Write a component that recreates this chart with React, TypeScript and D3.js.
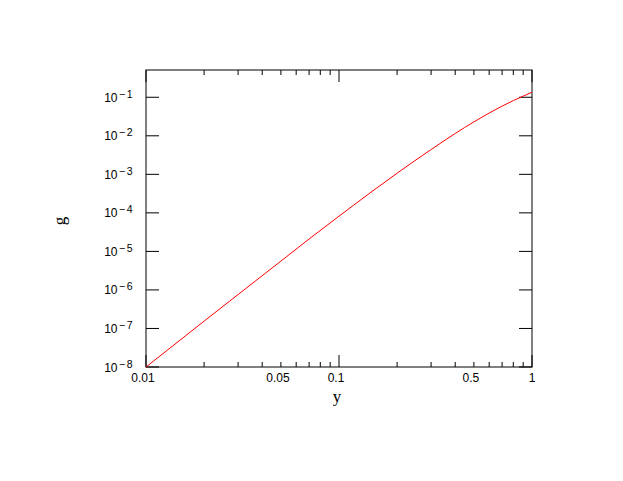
import React, { useEffect, useRef } from 'react';
import * as d3 from 'd3';

// g(y) curve, log-log

const yValues = [0.01, 0.02, 0.03, 0.05, 0.07, 0.1, 0.15, 0.2, 0.3, 0.4, 0.5, 0.6, 0.7, 0.8, 0.9, 1.0];
const gValues = [1e-8, 1.55e-7, 7.6e-7, 5.6e-6, 2.1e-5, 8.2e-5, 3.75e-4, 1.07e-3, 4.4e-3, 1.15e-2, 2.3e-2, 3.9e-2, 5.9e-2, 8.2e-2, 1.07e-1, 1.35e-1];
const xLabels = [0.01, 0.05, 0.1, 0.5, 1];
const yExponents = [-8, -7, -6, -5, -4, -3, -2, -1];

export default function App() {
  const ref = useRef<SVGSVGElement>(null);

  useEffect(() => {
    const svg = d3.select(ref.current);
    svg.selectAll('*').remove();

    const left = 146, right = 532, top = 70, bottom = 367;

    const x = d3.scaleLog().domain([0.01, 1]).range([left, right]);
    const y = d3.scaleLog().domain([1e-8, Math.pow(10, -0.292)]).range([bottom, top]);

    const g = svg.append('g');

    // x ticks, bottom and top
    const xTicks: number[] = [];
    [0.01, 0.1].forEach(d => { for (let k = 1; k <= 9; k++) xTicks.push(d * k); });
    xTicks.push(1);
    xTicks.forEach(t => {
      const major = Math.abs(Math.log10(t) - Math.round(Math.log10(t))) < 1e-9;
      const len = major ? 12 : 5;
      const px = x(t);
      g.append('line').attr('x1', px).attr('x2', px).attr('y1', bottom).attr('y2', bottom - len)
        .attr('stroke', '#000').attr('stroke-width', 1);
      g.append('line').attr('x1', px).attr('x2', px).attr('y1', top).attr('y2', top + len)
        .attr('stroke', '#000').attr('stroke-width', 1);
    });

    // y ticks, left and right
    yExponents.forEach(e => {
      const py = y(Math.pow(10, e));
      g.append('line').attr('x1', left).attr('x2', left + 13).attr('y1', py).attr('y2', py)
        .attr('stroke', '#000').attr('stroke-width', 1);
      g.append('line').attr('x1', right).attr('x2', right - 13).attr('y1', py).attr('y2', py)
        .attr('stroke', '#000').attr('stroke-width', 1);
    });

    // frame
    g.append('rect').attr('x', left).attr('y', top).attr('width', right - left).attr('height', bottom - top)
      .attr('fill', 'none').attr('stroke', '#000').attr('stroke-width', 1);

    // x tick labels
    g.selectAll('.xlab').data(xLabels).join('text')
      .attr('class', 'xlab')
      .attr('x', d => x(d) + (d === 1 ? 0 : -3))
      .attr('y', 382)
      .attr('text-anchor', 'middle')
      .attr('font-family', 'Liberation Sans, Arial, sans-serif')
      .attr('font-size', 12)
      .text(d => String(d));

    // y tick labels 10^e
    yExponents.forEach(e => {
      const t = g.append('text')
        .attr('x', 134)
        .attr('y', y(Math.pow(10, e)) + 4.5)
        .attr('text-anchor', 'end')
        .attr('font-family', 'Liberation Sans, Arial, sans-serif')
        .attr('font-size', 12);
      t.append('tspan').text('10');
      t.append('tspan').attr('dx', 1.5).attr('dy', -4).attr('font-size', 10.5)
        .attr('letter-spacing', 1.5).text('\u2212' + Math.abs(e));
    });

    // curve
    const pts = yValues.map((v, i) => [v, gValues[i]] as [number, number]);
    g.append('path')
      .datum(pts)
      .attr('fill', 'none')
      .attr('stroke', '#ff0000')
      .attr('stroke-width', 1)
      .attr('d', d3.line<[number, number]>().x(d => x(d[0])).y(d => y(d[1])).curve(d3.curveMonotoneX));

    // axis labels
    g.append('text')
      .attr('x', 337)
      .attr('y', 402)
      .attr('text-anchor', 'middle')
      .attr('font-family', 'Liberation Serif, Times New Roman, serif')
      .attr('font-size', 17)
      .text('y');

    g.append('text')
      .attr('transform', 'translate(65, 221) rotate(-90)')
      .attr('text-anchor', 'middle')
      .attr('font-family', 'Liberation Serif, Times New Roman, serif')
      .attr('font-size', 17)
      .text('g');
  }, []);

  return (
    <svg ref={ref} width={623} height={481}
      style={{ position: 'absolute', left: 0, top: 0, background: '#fff' }} />
  );
}
